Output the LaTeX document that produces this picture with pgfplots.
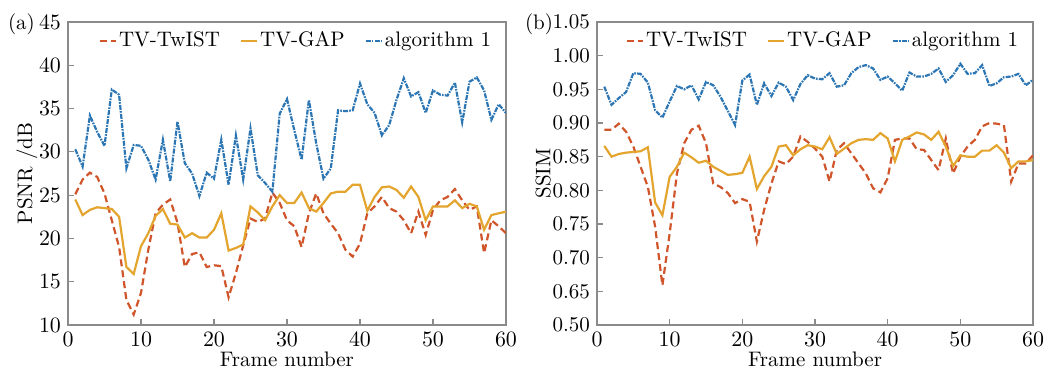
\documentclass[border=0pt]{standalone}
\usepackage{pgfplots}
\usepackage{pgfplotstable}
\pgfplotsset{compat=1.18}
\definecolor{cred}{HTML}{D0552A}
\definecolor{cyel}{HTML}{E3A52E}
\definecolor{cblu}{HTML}{2C76B4}
\definecolor{cax}{HTML}{8A8A8A}

\pgfplotstableread{
n twist gap alg
1 25.1 24.5 30.3
2 26.8 22.7 28.3
3 27.6 23.3 34.2
4 27.1 23.6 32.3
5 25.2 23.5 30.7
6 22.1 23.4 37.2
7 19.0 22.5 36.6
8 12.9 16.7 28.1
9 11.2 15.9 30.8
10 13.7 19.1 30.7
11 18.7 20.6 29.1
12 22.9 22.6 26.8
13 23.9 23.4 31.4
14 24.5 21.7 26.6
15 21.8 21.6 33.5
16 16.7 20.1 28.7
17 18.2 20.6 27.5
18 18.4 20.1 24.9
19 16.7 20.1 27.6
20 16.9 21.0 26.9
21 16.8 22.9 31.4
22 13.2 18.6 26.2
23 16.0 18.9 31.9
24 19.2 19.3 26.8
25 22.3 23.7 32.7
26 21.9 23.0 27.3
27 22.3 22.1 26.4
28 25.3 23.7 25.4
29 24.1 25.0 34.4
30 22.1 24.1 36.1
31 21.4 24.1 32.5
32 19.0 25.3 29.1
33 22.9 23.5 36.0
34 25.2 23.1 31.0
35 22.9 24.1 26.9
36 21.7 25.2 28.1
37 20.6 25.4 34.8
38 18.7 25.4 34.7
39 17.9 26.2 34.8
40 19.4 26.2 37.9
41 22.9 23.2 35.5
42 23.7 24.8 34.5
43 24.8 25.9 31.9
44 23.5 26.0 33.1
45 23.1 25.6 36.0
46 22.1 24.7 38.5
47 20.6 26.0 36.4
48 23.1 24.8 36.9
49 20.4 22.1 34.5
50 23.3 23.7 37.1
51 24.4 23.7 36.6
52 24.8 23.7 36.5
53 25.7 24.4 38.0
54 24.4 23.5 33.4
55 23.3 24.0 38.1
56 23.7 23.7 38.6
57 18.3 21.0 37.1
58 22.1 22.7 33.7
59 21.4 22.9 35.5
60 20.6 23.1 34.5
}\psnr

\pgfplotstableread{
n twist gap alg
1 0.890 0.866 0.954
2 0.890 0.850 0.927
3 0.899 0.854 0.937
4 0.887 0.856 0.946
5 0.865 0.857 0.974
6 0.835 0.858 0.973
7 0.805 0.864 0.960
8 0.746 0.782 0.919
9 0.659 0.763 0.908
10 0.736 0.820 0.932
11 0.825 0.835 0.955
12 0.870 0.856 0.950
13 0.890 0.849 0.956
14 0.896 0.841 0.935
15 0.870 0.844 0.961
16 0.810 0.835 0.956
17 0.805 0.829 0.939
18 0.796 0.823 0.918
19 0.781 0.824 0.897
20 0.787 0.826 0.963
21 0.783 0.850 0.972
22 0.724 0.802 0.927
23 0.771 0.821 0.959
24 0.810 0.835 0.940
25 0.843 0.865 0.960
26 0.839 0.867 0.954
27 0.850 0.852 0.934
28 0.880 0.861 0.958
29 0.872 0.867 0.971
30 0.862 0.865 0.966
31 0.850 0.861 0.965
32 0.813 0.879 0.974
33 0.860 0.854 0.954
34 0.870 0.862 0.956
35 0.855 0.870 0.974
36 0.840 0.875 0.983
37 0.825 0.876 0.986
38 0.803 0.875 0.981
39 0.797 0.885 0.964
40 0.818 0.877 0.969
41 0.875 0.843 0.959
42 0.877 0.875 0.948
43 0.877 0.880 0.975
44 0.861 0.886 0.969
45 0.860 0.883 0.969
46 0.845 0.875 0.973
47 0.830 0.887 0.981
48 0.877 0.865 0.961
49 0.825 0.836 0.971
50 0.850 0.852 0.988
51 0.865 0.850 0.973
52 0.875 0.850 0.974
53 0.895 0.859 0.986
54 0.900 0.859 0.955
55 0.899 0.867 0.959
56 0.897 0.856 0.968
57 0.813 0.833 0.969
58 0.840 0.843 0.973
59 0.840 0.843 0.956
60 0.852 0.845 0.964
}\ssim

\pgfplotsset{
  myaxis/.style={
    scale only axis,
    height=151.5pt,
    xmin=0, xmax=60,
    xtick={0,10,...,60},
    axis line style={cax, line width=0.6pt},
    tick style={cax, line width=0.6pt},
    major tick length=3pt,
    xtick pos=bottom, ytick pos=left,
    tick align=inside,
    ticklabel style={font=\fontsize{10.5}{12}\selectfont},
    label style={font=\fontsize{10.5}{12}\selectfont},
    xlabel={Frame number},
    xlabel style={yshift=4pt},
    ylabel style={yshift=-6pt},
    legend columns=3,
    legend style={draw=none, fill=none, at={(0.985,0.995)}, anchor=north east,
      font=\fontsize{10.5}{12}\selectfont,
      nodes={inner xsep=1pt},
      /tikz/every even column/.append style={column sep=9pt}},
    legend image code/.code={\draw[#1] (0pt,0pt) -- (8pt,0pt);},
    every axis plot/.append style={line width=1.1pt},
  },
  twist/.style={cred, dash pattern=on 3.5pt off 2pt},
  gap/.style={cyel, solid},
  alg/.style={cblu, dash pattern=on 2.5pt off 0.6pt on 0.8pt off 0.6pt},
}

\begin{document}
\begin{tikzpicture}
\useasboundingbox (0,0) rectangle (524pt,185.5pt);
\begin{axis}[myaxis, at={(34pt,23pt)}, anchor=south west, width=219pt,
  ymin=10, ymax=45, ytick={10,15,...,45},
  ylabel={PSNR /dB}]
\addplot[twist] table[x=n,y=twist]{\psnr};
\addlegendentry{TV-TwIST}
\addplot[gap] table[x=n,y=gap]{\psnr};
\addlegendentry{TV-GAP}
\addplot[alg] table[x=n,y=alg]{\psnr};
\addlegendentry{algorithm 1}
\end{axis}
\begin{axis}[myaxis, at={(298.5pt,23pt)}, anchor=south west, width=218pt,
  ymin=0.6, ymax=1.05, ytick={0.6,0.65,0.7,0.75,0.8,0.85,0.9,0.95,1.0,1.05},
  yticklabels={0.50,0.65,0.70,0.75,0.80,0.85,0.90,0.95,1.00,1.05},
  ylabel={SSIM}]
\addplot[twist] table[x=n,y=twist]{\ssim};
\addlegendentry{TV-TwIST}
\addplot[gap] table[x=n,y=gap]{\ssim};
\addlegendentry{TV-GAP}
\addplot[alg] table[x=n,y=alg]{\ssim};
\addlegendentry{algorithm 1}
\end{axis}
\node[anchor=base west, font=\fontsize{10.5}{12}\selectfont] at (0.5pt,171pt) {(a)};
\node[anchor=base west, font=\fontsize{10.5}{12}\selectfont] at (259pt,171pt) {(b)};
\end{tikzpicture}
\end{document}
